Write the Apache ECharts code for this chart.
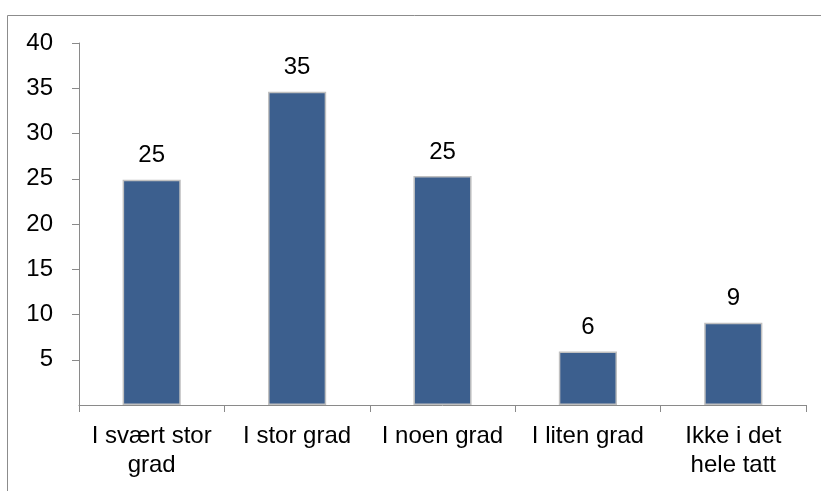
<!DOCTYPE html>
<html>
<head>
<meta charset="utf-8">
<script src="https://cdn.jsdelivr.net/npm/echarts@6/dist/echarts.min.js"></script>
<style>
html,body{margin:0;padding:0;background:#fff;}
#c{width:821px;height:491px;}
</style>
</head>
<body>
<div id="c"></div>
<script>
var categories = ["I svært stor\ngrad", "I stor grad", "I noen grad", "I liten grad", "Ikke i det\nhele tatt"];
var values = [24.9, 34.6, 25.3, 5.9, 9.1];
var yTicks = {min: 0, max: 40, interval: 5};

var chart = echarts.init(document.getElementById('c'), null, {renderer: 'canvas'});
var font = '"Liberation Sans", Arial, sans-serif';
chart.setOption({
  animation: false,
  backgroundColor: '#fff',
  graphic: [{
    type: 'rect', left: 5, top: 13, shape: {x: 0, y: 0, width: 840, height: 500},
    style: {fill: 'none', stroke: '#8c8c8c', lineWidth: 1}, silent: true
  }],
  grid: {left: 79, right: 15, top: 43, bottom: 86, containLabel: false},
  xAxis: {
    type: 'category',
    data: categories,
    axisLine: {lineStyle: {color: '#8a8a8a', width: 1}},
    axisTick: {show: true, length: 7, lineStyle: {color: '#8a8a8a'}},
    axisLabel: {color: '#000', fontSize: 24, fontFamily: font, margin: 17, lineHeight: 29, interval: 0}
  },
  yAxis: {
    type: 'value',
    min: yTicks.min, max: yTicks.max, interval: yTicks.interval,
    splitLine: {show: false},
    axisLine: {show: true, lineStyle: {color: '#8a8a8a', width: 1}},
    axisTick: {show: true, length: 7, lineStyle: {color: '#8a8a8a'}},
    axisLabel: {color: '#000', fontSize: 24, fontFamily: font, margin: 26, showMinLabel: false}
  },
  series: [{
    type: 'bar',
    data: values,
    barWidth: '40%',
    itemStyle: {color: '#3c5f8e', borderColor: '#c0c0c0', borderWidth: 1.5},
    label: {
      show: true, position: 'top', distance: 12, color: '#000',
      fontSize: 24, fontFamily: font,
      formatter: function (p) { return Math.round(p.value); }
    }
  }]
});
</script>
</body>
</html>
